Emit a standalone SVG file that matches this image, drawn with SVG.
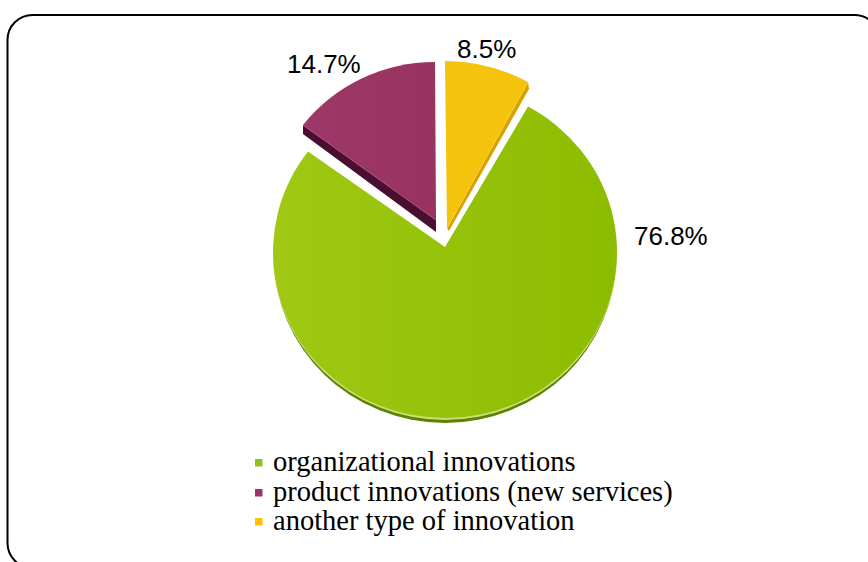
<svg xmlns="http://www.w3.org/2000/svg" width="868" height="562" viewBox="0 0 868 562">
<defs>
<linearGradient id="gGreen" x1="0" y1="0" x2="1" y2="0">
<stop offset="0" stop-color="#A0C814"/>
<stop offset="1" stop-color="#8CBC00"/>
</linearGradient>
<linearGradient id="gPurple" x1="0" y1="0" x2="1" y2="0">
<stop offset="0" stop-color="#9E3868"/>
<stop offset="1" stop-color="#98325F"/>
</linearGradient>
<clipPath id="lower"><rect x="0" y="250" width="868" height="312"/></clipPath>
<style>
.pct{font-family:"Liberation Sans",Arial,sans-serif;font-size:26px;fill:#000}
.leg{font-family:"Liberation Serif","Times New Roman",serif;font-size:28.5px;fill:#000}
</style>
</defs>
<rect x="7.5" y="15" width="872" height="553" rx="25" ry="25" fill="#fff" stroke="#000" stroke-width="2"/>
<g id="slice-organizational">
<ellipse cx="445" cy="257" rx="171" ry="166" fill="#5E8300" clip-path="url(#lower)"/>
<ellipse cx="445" cy="254" rx="172" ry="166" fill="#C9E07A" clip-path="url(#lower)"/>
<path d="M445 247 L528 106.6 A172 166 0 1 1 308 151.6 Z" fill="url(#gGreen)"/>
</g>
<g id="slice-product">
<path d="M303 125 L303 134 L436 232 L436 220 Z" fill="#4A0F30"/>
<path d="M303 125 L436 220" stroke="#C46A94" stroke-width="1"/>
<path d="M436 220 L435 62 A168 166 0 0 0 303 125 Z" fill="url(#gPurple)"/>
</g>
<g id="slice-other">
<path d="M528 82 L529 89 L449 231 L447 228 Z" fill="#D9A000"/>
<path d="M528 82 L447 228" stroke="#FBE38A" stroke-width="1"/>
<path d="M447 228 L445 61 A172 166 0 0 1 528 82 Z" fill="#F5C20C"/>
</g>
<g id="labels">
<text class="pct" x="287" y="73">14.7%</text>
<text class="pct" x="457" y="58">8.5%</text>
<text class="pct" x="634" y="245">76.8%</text>
</g>
<g id="legend">
<rect x="255" y="459" width="7.5" height="7.5" fill="#92C01E"/>
<text class="leg" x="273" y="471">organizational innovations</text>
<rect x="255" y="489" width="7.5" height="7.5" fill="#9B3566"/>
<text class="leg" x="273" y="500.5">product innovations (new services)</text>
<rect x="255" y="518" width="7.5" height="7.5" fill="#FFC000"/>
<text class="leg" x="273" y="530">another type of innovation</text>
</g>
</svg>
